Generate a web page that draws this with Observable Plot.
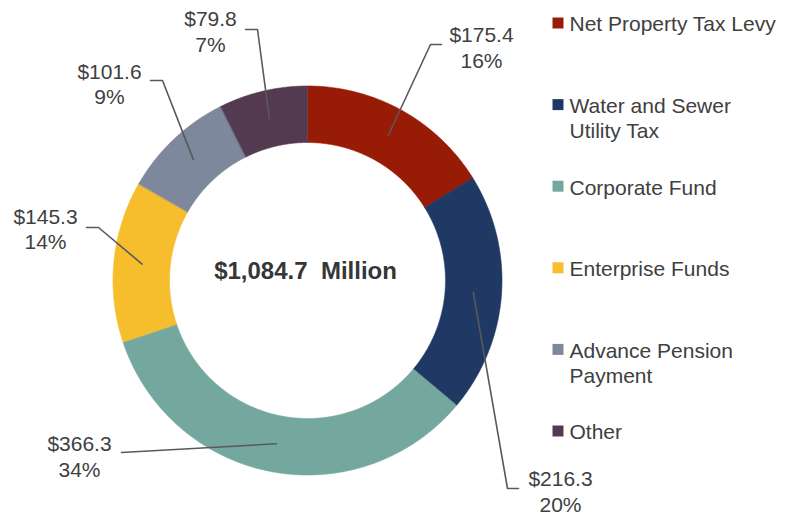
<!DOCTYPE html>
<html><head><meta charset="utf-8">
<script src="https://cdn.jsdelivr.net/npm/d3@7"></script>
<script src="https://cdn.jsdelivr.net/npm/@observablehq/plot@0.6"></script>
<style>body{margin:0;background:#fff;} #chart svg{display:block}</style>
</head><body><div id="chart"></div>
<script>
// ---- data ----
const categories = ["Net Property Tax Levy","Water and Sewer Utility Tax","Corporate Fund","Enterprise Funds","Advance Pension Payment","Other"];
const legendLabels = ["Net Property Tax Levy","Water and Sewer\nUtility Tax","Corporate Fund","Enterprise Funds","Advance Pension\nPayment","Other"];
const values = [175.4, 216.3, 366.3, 145.3, 101.6, 79.8];
const percentLabels = ["16%","20%","34%","14%","9%","7%"];
const colors = ["#981B06","#1F3864","#74A89E","#F6BD2C","#7D889C","#543A50"];

// ---- layout ----
const W = 787, H = 515, cx = 307, cy = 280, R = 194.5, inner = 0.7095;
const ux = px => (px - cx) / R, uy = py => (cy - py) / R;
const labelLayout = [
  {elbow:[430,44],  end:[441,44],  text:[481,46.5]},
  {elbow:[507,488], end:[518,488], text:[560,490.5]},
  {elbow:null,      end:[121,452], text:[79,455.5]},
  {elbow:[98,227],  end:[86,227],  text:[45,228]},
  {elbow:[162,80],  end:[150,80],  text:[109,83]},
  {elbow:[257,29],  end:[245,29],  text:[210,30.5]}
];
const legendLayout = {squareX:557.5, textX:569, top:22.5, step:81.6};

const total = d3.sum(values);
let acc = 0;
const slices = categories.map((name, i) => {
  const a0 = acc / total * 2 * Math.PI; acc += values[i];
  const a1 = acc / total * 2 * Math.PI;
  return {name, value: values[i], pct: percentLabels[i], a0, a1, mid: (a0 + a1) / 2, i};
});

const ring = [];
for (const s of slices) {
  const n = Math.max(2, Math.ceil((s.a1 - s.a0) / 0.005));
  for (let k = 0; k <= n; k++) { const a = s.a0 + (s.a1 - s.a0) * k / n; ring.push({name: s.name, x: Math.sin(a), y: Math.cos(a)}); }
  for (let k = n; k >= 0; k--) { const a = s.a0 + (s.a1 - s.a0) * k / n; ring.push({name: s.name, x: inner * Math.sin(a), y: inner * Math.cos(a)}); }
}

const rMid = (1 + inner) / 2;
const leaders = [];
const labels = [];
slices.forEach((s, i) => {
  const L = labelLayout[i];
  leaders.push({name: s.name, x: rMid * Math.sin(s.mid), y: rMid * Math.cos(s.mid)});
  if (L.elbow) leaders.push({name: s.name, x: ux(L.elbow[0]), y: uy(L.elbow[1])});
  leaders.push({name: s.name, x: ux(L.end[0]), y: uy(L.end[1])});
  labels.push({x: ux(L.text[0]), y: uy(L.text[1]), text: "$" + d3.format(".1f")(s.value) + "\n" + s.pct});
});

const legend = slices.map((s, i) => ({name: s.name, label: legendLabels[i], y: uy(legendLayout.top + i * legendLayout.step)}));

const chart = Plot.plot({
  width: W, height: H, margin: 0,
  x: {domain: [ux(0), ux(W)], axis: null},
  y: {domain: [uy(H), uy(0)], axis: null},
  color: {domain: categories, range: colors},
  style: {fontFamily: "'Liberation Sans', Arial, sans-serif", background: "#fff", color: "#404040"},
  marks: [
    Plot.line(ring, {x: "x", y: "y", z: "name", fill: "name", stroke: "name", strokeWidth: 0.6, curve: "linear-closed"}),
    Plot.line(leaders, {x: "x", y: "y", z: "name", stroke: "#595959", strokeWidth: 1.6}),
    Plot.text(labels, {x: "x", y: "y", text: "text", fontSize: 21, lineHeight: 1.2, fill: "#404040"}),
    Plot.text([{t: d3.format("$,.1f")(total) + "\u00a0 Million"}], {x: () => ux(305), y: () => uy(271), text: "t", fontSize: 24, fontWeight: "bold", fill: "#363636"}),
    Plot.dot(legend, {x: () => ux(legendLayout.squareX), y: "y", symbol: "square", r: 6.2, fill: "name"}),
    Plot.text(legend, {x: () => ux(legendLayout.textX), y: "y", text: "label", textAnchor: "start", lineAnchor: "top", dy: -9.5, lineHeight: 1.2, fontSize: 21, fill: "#404040"})
  ]
});
document.getElementById("chart").append(chart);
</script>
</body></html>
